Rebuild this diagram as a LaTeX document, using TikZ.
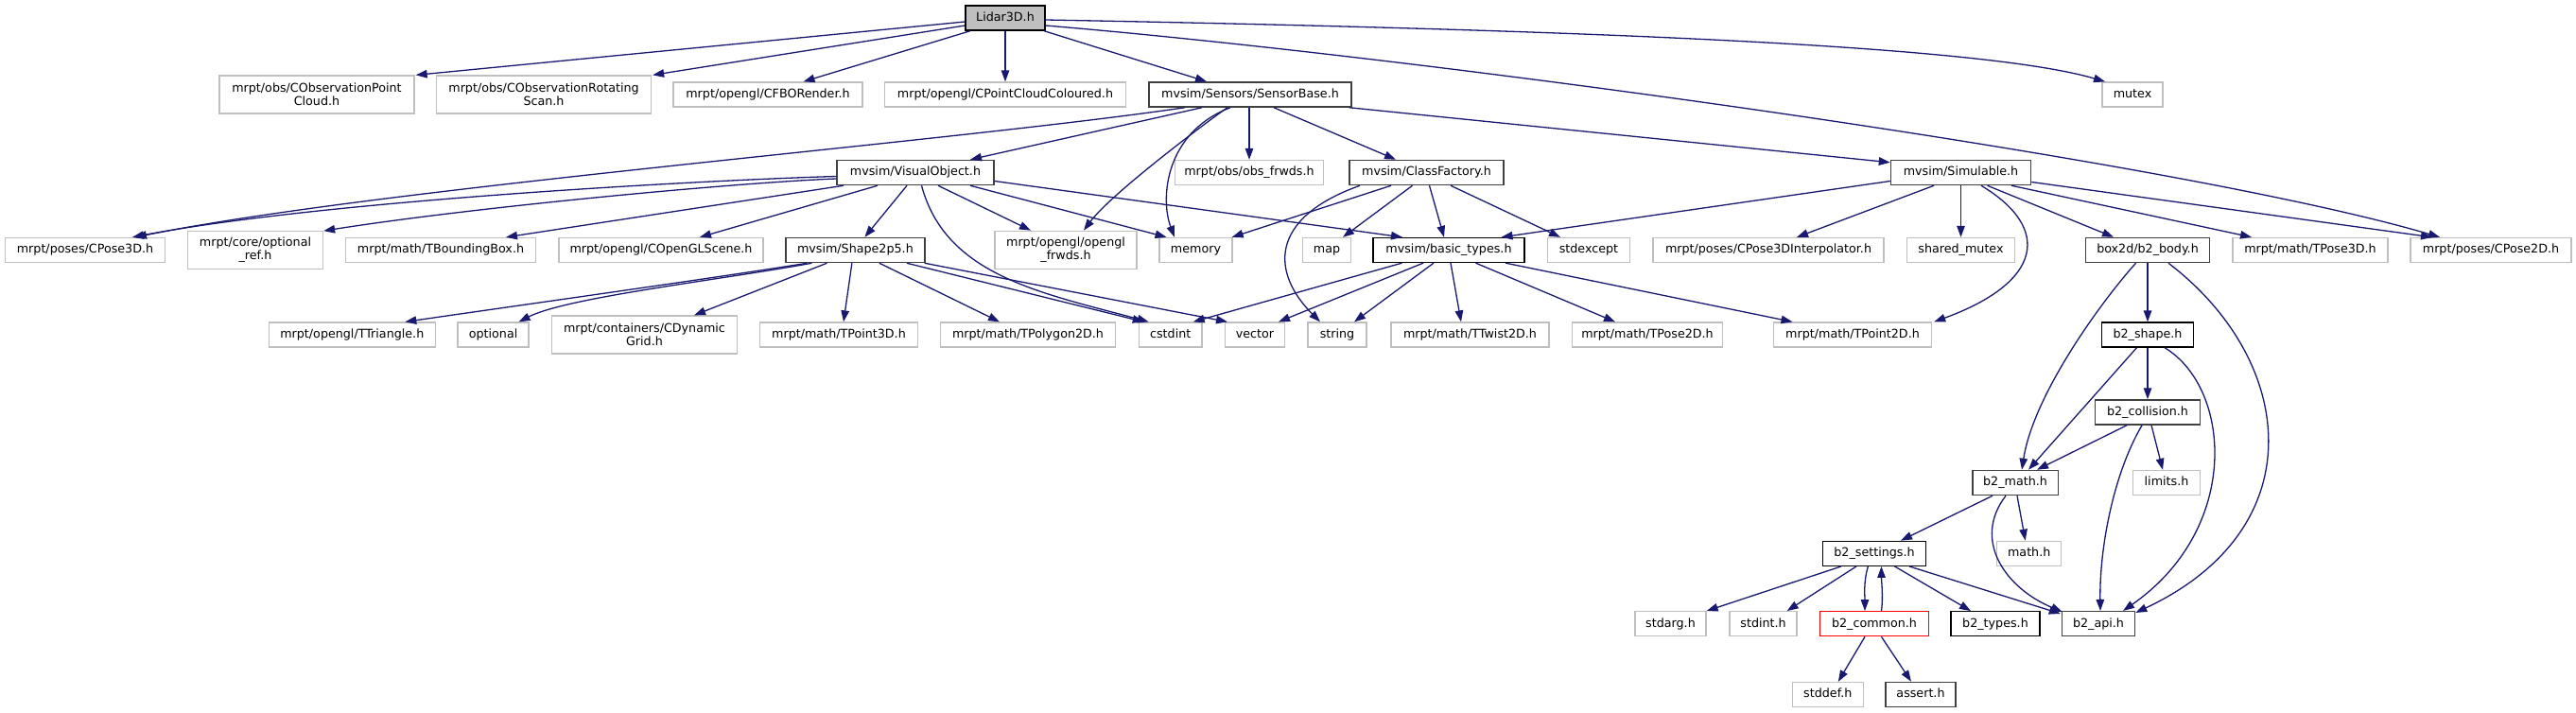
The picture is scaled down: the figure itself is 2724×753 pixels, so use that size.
\documentclass[tikz,border=0pt]{standalone}
\usepackage{fontspec}
\setmainfont{DejaVu Sans}
\usetikzlibrary{arrows.meta,calc}
\definecolor{edgeblue}{HTML}{191970}
\definecolor{extgray}{HTML}{BFBFBF}
\definecolor{docgray}{HTML}{404040}
\definecolor{rootfill}{HTML}{BFBFBF}
\newcommand{\dgfont}{\fontsize{12.7}{14.5}\selectfont}
\tikzset{
  box/.style={rectangle, inner sep=0pt, minimum height=26pt, font=\dgfont, fill=white},
  one/.style={text height=9.5pt, text depth=2.9pt},
  ext/.style={box, one, draw=extgray, line width=1.3pt},
  ext2/.style={box, draw=extgray, line width=1.3pt, minimum height=40pt, align=center},
  doc/.style={box, one, draw=docgray, line width=1.5pt},
  blk/.style={box, one, draw=black, line width=1.3pt},
  redb/.style={box, one, draw=red, line width=1.3pt},
  root/.style={box, one, draw=black, fill=rootfill, line width=1.4pt},
  edge/.style={draw=edgeblue, line width=1.3pt, -{Triangle[length=12pt,width=8.5pt]}},
}
\begin{document}
\begin{tikzpicture}[x=1pt,y=-1pt]
\path[use as bounding box] (0,0) rectangle (2724,753);
% row A
\node[root, minimum width=84pt] (lidar) at (1063,19) {Lidar3D.h};
% row B
\node[ext2, minimum width=206pt] (pc) at (335,100) {mrpt/obs/CObservationPoint\\Cloud.h};
\node[ext2, minimum width=227pt] (rs) at (575,100) {mrpt/obs/CObservationRotating\\Scan.h};
\node[ext, minimum width=200pt] (fbo) at (812,100) {mrpt/opengl/CFBORender.h};
\node[ext, minimum width=255pt] (pcc) at (1063,100) {mrpt/opengl/CPointCloudColoured.h};
\node[doc, minimum width=214pt] (sb) at (1322,100) {mvsim/Sensors/SensorBase.h};
\node[ext, minimum width=64pt] (mutex) at (2255,100) {mutex};
% row C
\node[doc, minimum width=166pt] (vo) at (968,182.5) {mvsim/VisualObject.h};
\node[ext, minimum width=157pt] (obs) at (1321,182.5) {mrpt/obs/obs\_frwds.h};
\node[doc, minimum width=163pt] (cf) at (1508.5,182.5) {mvsim/ClassFactory.h};
\node[doc, minimum width=148pt] (sim) at (2073.5,182.5) {mvsim/Simulable.h};
% row D
\node[ext, minimum width=169pt] (p3d) at (90,264.5) {mrpt/poses/CPose3D.h};
\node[ext2, minimum width=143pt] (optref) at (270,264.3) {mrpt/core/optional\\\_ref.h};
\node[ext, minimum width=201pt] (bbox) at (466,264.5) {mrpt/math/TBoundingBox.h};
\node[ext, minimum width=216pt] (scene) at (699,264.5) {mrpt/opengl/COpenGLScene.h};
\node[doc, minimum width=147pt] (shape) at (904.4,264.5) {mvsim/Shape2p5.h};
\node[ext2, minimum width=150pt] (glfw) at (1127,264.3) {mrpt/opengl/opengl\\\_frwds.h};
\node[ext, minimum width=77pt] (memory) at (1264.5,264.5) {memory};
\node[ext, minimum width=51pt] (map) at (1403,264.5) {map};
\node[blk, minimum width=160pt] (bt) at (1532,264.5) {mvsim/basic\_types.h};
\node[ext, minimum width=87pt] (stdexcept) at (1680,264.5) {stdexcept};
\node[ext, minimum width=244pt] (interp) at (1870,264.5) {mrpt/poses/CPose3DInterpolator.h};
\node[ext, minimum width=114pt] (shmutex) at (2073.5,264.5) {shared\_mutex};
\node[doc, minimum width=131pt] (body) at (2271,264.5) {box2d/b2\_body.h};
\node[ext, minimum width=164pt] (tp3d) at (2443,264.5) {mrpt/math/TPose3D.h};
\node[ext, minimum width=170pt] (p2d) at (2634,264.5) {mrpt/poses/CPose2D.h};
% row E
\node[ext, minimum width=176pt] (tri) at (372.3,354) {mrpt/opengl/TTriangle.h};
\node[ext, minimum width=75pt] (optional) at (521.6,354) {optional};
\node[ext2, minimum width=196pt] (grid) at (681.5,354) {mrpt/containers/CDynamic\\Grid.h};
\node[ext, minimum width=166.5pt] (tpt3d) at (887,354) {mrpt/math/TPoint3D.h};
\node[ext, minimum width=185pt] (poly) at (1087,354) {mrpt/math/TPolygon2D.h};
\node[ext, minimum width=66.6pt] (cstdint) at (1237.7,354) {cstdint};
\node[ext, minimum width=62.5pt] (vector) at (1327,354) {vector};
\node[ext, minimum width=62pt] (string) at (1414,354) {string};
\node[ext, minimum width=167pt] (twist) at (1554.5,354) {mrpt/math/TTwist2D.h};
\node[ext, minimum width=159pt] (tpose2d) at (1742,354) {mrpt/math/TPose2D.h};
\node[ext, minimum width=167pt] (tpt2d) at (1959,354) {mrpt/math/TPoint2D.h};
\node[blk, minimum width=96.5pt] (shape2) at (2271,354) {b2\_shape.h};
% rows F-J
\node[doc, minimum width=111pt] (coll) at (2271,436) {b2\_collision.h};
\node[doc, minimum width=90.5pt] (math) at (2131,510.5) {b2\_math.h};
\node[ext, minimum width=71pt] (limits) at (2291,510.5) {limits.h};
\node[blk, minimum width=109.5pt] (settings) at (1982,585.3) {b2\_settings.h};
\node[ext, minimum width=68pt] (mathh) at (2145.7,585.3) {math.h};
\node[ext, minimum width=75pt] (stdarg) at (1766.5,659.7) {stdarg.h};
\node[ext, minimum width=71pt] (stdint) at (1864.6,659.7) {stdint.h};
\node[redb, minimum width=115pt] (common) at (1982,659.7) {b2\_common.h};
\node[blk, minimum width=94pt] (types) at (2110,659.7) {b2\_types.h};
\node[doc, minimum width=77pt] (api) at (2219,659.7) {b2\_api.h};
\node[ext, minimum width=75pt] (stddef) at (1932.8,734.5) {stddef.h};
\node[doc, minimum width=74pt] (assert) at (2031,734.5) {assert.h};

% edges from Lidar3D
\draw[edge] ($(lidar.west)+(0,4)$) -- ($(pc.north east)+(1,0)$);
\draw[edge] ($(lidar.west)+(0,8)$) -- ($(rs.north east)+(1,0)$);
\draw[edge] ($(lidar.south)+(-37,0)$) -- ($(fbo.north)+(37.5,0)$);
\draw[edge] (lidar.south) -- (pcc.north);
\draw[edge] ($(lidar.south)+(41,0)$) -- ($(sb.north)+(-46,0)$);
\draw[edge] ($(lidar.east)+(0,2)$) .. controls +(595,11) and +(-126,-37) .. ($(mutex.north)+(-29,0)$);
\draw[edge] ($(lidar.east)+(0,8)$) .. controls +(395,33) and +(-280,-82) .. ($(p2d.north)+(-54,0)$);
% SensorBase
\draw[edge] ($(sb.south)+(-69,0)$) .. controls +(-253,37) and +(257,-52) .. ($(p3d.north)+(53,0)$);
\draw[edge] ($(sb.south)+(-51,0)$) -- ($(vo.north)+(58,0)$);
\draw[edge] ($(sb.south)+(-24,0)$) .. controls +(-15,10) and +(30,-40) .. ($(glfw.north)+(19,0)$);
\draw[edge] ($(sb.south)+(-21,0)$) .. controls +(-70,27) and +(-15,-40) .. ($(memory.north)+(-22.5,0)$);
\draw[edge] ($(sb.south)+(-1,0)$) -- ($(obs.north)+(0,0)$);
\draw[edge] ($(sb.south)+(25,0)$) -- ($(cf.north)+(-32.5,0)$);
\draw[edge] ($(sb.south east)+(-3,0)$) -- ($(sim.north west)+(0,3)$);
% VisualObject
\draw[edge] ($(vo.west)+(0,4)$) .. controls +(-125,3.5) and +(210,-40) .. ($(p3d.north)+(50,0)$);
\draw[edge] ($(vo.west)+(0,6.5)$) .. controls +(-105,4) and +(158,-25) .. ($(optref.north east)+(0,0.5)$);
\draw[edge] ($(vo.south)+(-76,0)$) -- ($(bbox.north)+(69,0)$);
\draw[edge] ($(vo.south)+(-40,0)$) -- ($(scene.north)+(41,0)$);
\draw[edge] ($(vo.south)+(-9,0)$) -- ($(shape.north)+(10,0)$);
\draw[edge] ($(vo.south)+(6.5,0)$) .. controls +(25.5,95) and +(-115,-31) .. ($(cstdint.north)+(-23,0)$);
\draw[edge] ($(vo.south)+(24,0)$) -- ($(glfw.north)+(-37,0)$);
\draw[edge] ($(vo.south)+(58,0)$) -- ($(memory.north)+(-31,0)$);
\draw[edge] ($(vo.east)+(0,9)$) -- ($(bt.north)+(-49,0)$);
% ClassFactory
\draw[edge] ($(cf.south)+(-37.5,0)$) -- ($(memory.north east)+(-1,0)$);
\draw[edge] ($(cf.south)+(-70.5,0)$) .. controls +(-98,35) and +(-51,-51) .. ($(string.north)+(-18,0)$);
\draw[edge] ($(cf.south)+(-15,0)$) -- ($(map.north)+(17,0)$);
\draw[edge] ($(cf.south)+(3,0)$) -- ($(bt.north)+(-5,0)$);
\draw[edge] ($(cf.south)+(25.5,0)$) -- ($(stdexcept.north)+(-30,0)$);
% Simulable
\draw[edge] ($(sim.west)+(0,9)$) -- ($(bt.north)+(55.5,0)$);
\draw[edge] ($(sim.south)+(-28.5,0)$) -- ($(interp.north)+(30,0)$);
\draw[edge] (sim.south) -- (shmutex.north);
\draw[edge] ($(sim.south)+(21.5,0)$) .. controls +(75,45) and +(115,-42) .. ($(tpt2d.north east)+(2,0)$);
\draw[edge] ($(sim.south)+(28,0)$) -- ($(body.north)+(-36,0)$);
\draw[edge] ($(sim.south)+(53.5,0)$) -- ($(tp3d.north)+(-62,0)$);
\draw[edge] ($(sim.east)+(0,10)$) -- ($(p2d.north)+(-62,0)$);
% basic_types
\draw[edge] ($(bt.south)+(-49.5,0)$) -- ($(cstdint.north)+(24,0)$);
\draw[edge] ($(bt.south)+(-27,0)$) -- ($(vector.north)+(25,0)$);
\draw[edge] ($(bt.south)+(-16,0)$) -- ($(string.north)+(18,0)$);
\draw[edge] ($(bt.south)+(2,0)$) -- ($(twist.north)+(-9.5,0)$);
\draw[edge] ($(bt.south)+(28.5,0)$) -- ($(tpose2d.north)+(-34,0)$);
\draw[edge] ($(bt.south)+(60,0)$) -- ($(tpt2d.north)+(-63.5,0)$);
% Shape2p5
\draw[edge] ($(shape.south)+(-51,0)$) .. controls +(-93,15) and +(132,-19) .. ($(tri.north)+(56,0)$);
\draw[edge] ($(shape.south)+(-46,0)$) .. controls +(-98,18) and +(51,-26) .. ($(optional.north)+(27,0)$);
\draw[edge] ($(shape.south)+(-30,0)$) -- ($(grid.north)+(52.5,0)$);
\draw[edge] ($(shape.south)+(-3.5,0)$) -- ($(tpt3d.north)+(5,0)$);
\draw[edge] ($(shape.south)+(25.5,0)$) -- ($(poly.north)+(-30,0)$);
\draw[edge] ($(shape.south)+(54.5,0)$) -- ($(cstdint.north)+(-28,0)$);
\draw[edge] ($(shape.south east)+(-1,0)$) -- ($(vector.north)+(-29,0)$);
% box2d body
\draw[edge] ($(body.south)+(-12.5,0)$) .. controls +(-38.5,43) and +(12,-78) .. ($(math.north)+(7,0)$);
\draw[edge] (body.south) -- (shape2.north);
\draw[edge] ($(body.south)+(22,0)$) .. controls +(135,103) and +(190,-89) .. ($(api.north east)+(0,2)$);
% b2_shape
\draw[edge] ($(shape2.south)+(-11.5,0)$) -- ($(math.north)+(14,0)$);
\draw[edge] (shape2.south) -- (coll.north);
\draw[edge] ($(shape2.south)+(18,0)$) .. controls +(71,43) and +(125,-87) .. ($(api.north)+(26,0)$);
% b2_collision
\draw[edge] ($(coll.south)+(-22,0)$) -- ($(math.north)+(23,0)$);
\draw[edge] ($(coll.south)+(-6,0)$) .. controls +(-30,51) and +(-1,-67) .. ($(api.north)+(2,0)$);
\draw[edge] ($(coll.south)+(4,0)$) -- ($(limits.north)+(-4,0)$);
% b2_math
\draw[edge] ($(math.south)+(-24,0)$) -- ($(settings.north)+(28,0)$);
\draw[edge] ($(math.south)+(-10,0)$) .. controls +(-36,47) and +(-60,-25) .. ($(api.north west)+(1,1)$);
\draw[edge] ($(math.south)+(2,0)$) -- ($(mathh.north)+(-4,0)$);
% b2_settings
\draw[edge] ($(settings.south)+(-35,0)$) -- (stdarg.north east);
\draw[edge] ($(settings.south)+(-19,0)$) -- ($(stdint.north)+(25,0)$);
\draw[edge] ($(settings.south)+(-6.6,0)$) .. controls +(-5,16) and +(0,-16) .. ($(common.north)+(-10,0)$);
\draw[edge] ($(common.north)+(7.5,0)$) .. controls +(2,-16) and +(0,16) .. ($(settings.south)+(7.5,0)$);
\draw[edge] ($(settings.south)+(21.5,0)$) -- ($(types.north)+(-26,0)$);
\draw[edge] ($(settings.south)+(37,0)$) -- ($(api.north west)+(-1,3)$);
% b2_common
\draw[edge] ($(common.south)+(-10,0)$) -- ($(stddef.north)+(11,0)$);
\draw[edge] ($(common.south)+(7.5,0)$) -- ($(assert.north)+(-10,0)$);
\end{tikzpicture}
\end{document}
